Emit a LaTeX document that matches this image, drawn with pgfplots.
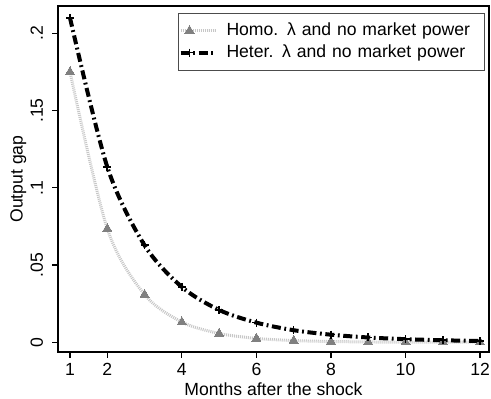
\documentclass[border=0pt]{standalone}
\usepackage{pgfplots}
\pgfplotsset{compat=1.18}
\usepackage{fontspec}
\setmainfont{Liberation Sans}

% Impulse responses of the output gap after the shock
\pgfplotstableread{
month homo    heter
1     0.1750  0.2100
2     0.0735  0.1135
3     0.0309  0.0628
4     0.0131  0.0358
5     0.0057  0.0209
6     0.0025  0.0127
7     0.0011  0.0078
8     0.0005  0.0049
9     0.0002  0.0031
10    0.0001  0.0020
11    0.00005 0.0013
12    0.00002 0.0008
}\irf

\definecolor{homoline}{gray}{0.78}
\definecolor{homomark}{gray}{0.50}
\definecolor{framegray}{gray}{0.30}

\begin{document}
\begin{tikzpicture}[font=\fontsize{8.8pt}{10.5pt}\selectfont]
\useasboundingbox (-29pt,-23.5pt) rectangle (216.5pt,176pt);
\begin{axis}[
  scale only axis,
  width=215.5pt, height=173pt,
  xmin=0.678, xmax=12.24,
  ymin=-0.0063, ymax=0.2177,
  xtick={1,2,4,6,8,10,12},
  ytick={0,0.05,0.1,0.15,0.2},
  yticklabels={0,.05,.1,.15,.2},
  /pgf/number format/assume math mode=true,
  tick align=outside,
  major tick length=3pt,
  xtick pos=bottom, ytick pos=left,
  axis line style={line width=0.6pt},
  tick style={black, line width=0.6pt},
  xticklabel style={anchor=north, inner sep=0pt},
  xticklabel shift=2.5pt,
  yticklabel style={rotate=90, anchor=base},
  yticklabel shift=4.5pt,
  xlabel={Months after the shock},
  ylabel={Output gap},
  xlabel style={at={(axis description cs:0.5,0)}, anchor=base, yshift=-21.8pt},
  ylabel style={at={(axis description cs:-0.0821,0.5)}, anchor=base},
  legend style={
    at={(1,1)}, anchor=north east, xshift=-2pt, yshift=-3.35pt,
    draw=framegray, line width=0.5pt,
    inner xsep=0pt, inner ysep=3.25pt,
    row sep=0pt, column sep=0pt,
    nodes={inner xsep=4.5pt, inner ysep=1.5pt, text height=6.5pt, text depth=1.5pt, text width=124.5pt, align=left},
  },
  legend cell align=left,
  legend image code/.code={
    \draw[mark repeat=2, mark phase=2] plot coordinates {(0pt,0pt) (4.5pt,0pt) (17.5pt,0pt)};
  },
]
\addplot[homoline, line width=1.5pt, dash pattern=on 0.5pt off 0.5pt, smooth,
  mark=triangle*, mark size=2.6pt,
  mark options={solid, homomark, draw=homomark, fill=homomark, line width=0pt}]
  table[x=month, y=homo] {\irf};
\addlegendentry{Homo. λ and no market power}
\addplot[black, line width=2pt, dash pattern=on 4.5pt off 1.8pt on 0.9pt off 1.8pt, smooth,
  mark=+, mark size=2pt, mark options={solid, line width=0.8pt}]
  table[x=month, y=heter] {\irf};
\addlegendentry{Heter. λ and no market power}
\end{axis}
\end{tikzpicture}
\end{document}
